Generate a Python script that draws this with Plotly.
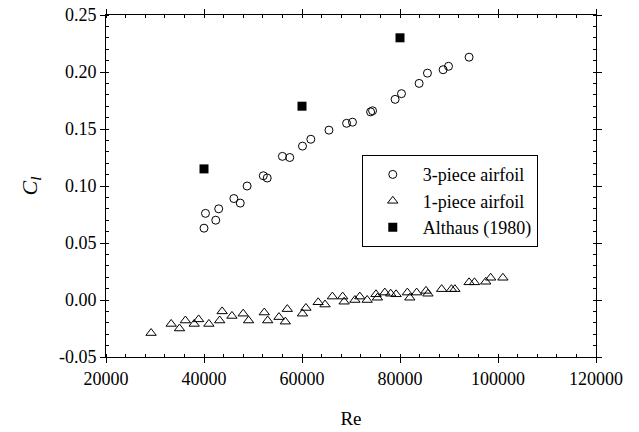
import plotly.graph_objects as go

# 3-piece airfoil
re_3piece = [40000, 40300, 42400, 43000, 46100, 47400, 48800, 52100, 52900, 56000,
             57500, 60100, 61800, 65500, 69100, 70300, 74000, 74400, 79000, 80300,
             83900, 85600, 88800, 89900, 94100]
cl_3piece = [0.063, 0.076, 0.070, 0.080, 0.089, 0.085, 0.100, 0.109, 0.107, 0.126,
             0.125, 0.135, 0.141, 0.149, 0.155, 0.156, 0.165, 0.166, 0.176, 0.181,
             0.190, 0.199, 0.202, 0.205, 0.213]

# 1-piece airfoil
re_1piece = [29200, 33300, 35000, 36200, 38000, 38900, 41000, 43200, 43700, 45700,
             48000, 49100, 52300, 53000, 55300, 56600, 57000, 60100, 60800, 63300,
             64700, 66200, 68300, 68600, 70800, 71800, 73300, 75100, 75400, 76900,
             78100, 79200, 81500, 82000, 83400, 85300, 85700, 88500, 90500, 91200,
             94100, 95200, 97500, 98500, 101000]
cl_1piece = [-0.029, -0.021, -0.025, -0.018, -0.021, -0.017, -0.021, -0.018, -0.010, -0.014,
             -0.012, -0.018, -0.011, -0.018, -0.015, -0.019, -0.008, -0.012, -0.007, -0.002,
             -0.004, 0.003, 0.003, -0.0015, 0.000, 0.003, 0.000, 0.005, 0.002, 0.0065,
             0.0055, 0.005, 0.0065, 0.002, 0.0065, 0.008, 0.0055, 0.0095, 0.0095, 0.0095,
             0.0155, 0.0155, 0.016, 0.0195, 0.0195]

# Althaus (1980)
re_althaus = [40000, 60000, 80000]
cl_althaus = [0.115, 0.170, 0.230]

# Y tick labels (hyphen minus as in the reference)
y_tickvals = [-0.05, 0.0, 0.05, 0.10, 0.15, 0.20, 0.25]
y_ticktext = ["-0.05", "0.00", "0.05", "0.10", "0.15", "0.20", "0.25"]

FONT = "Liberation Serif"

fig = go.Figure()
fig.add_trace(go.Scatter(
    x=re_3piece, y=cl_3piece, mode="markers", name="3-piece airfoil",
    marker=dict(symbol="circle-open", size=8, color="black", line=dict(width=1, color="black")),
))
fig.add_trace(go.Scatter(
    x=re_1piece, y=cl_1piece, mode="markers", name="1-piece airfoil",
    marker=dict(symbol="triangle-up-open", size=9, color="black", line=dict(width=1, color="black")),
))
fig.add_trace(go.Scatter(
    x=re_althaus, y=cl_althaus, mode="markers", name="Althaus (1980)",
    marker=dict(symbol="square", size=9, color="black"),
))

axis_common = dict(
    showgrid=False, zeroline=False, showline=True, linecolor="black", linewidth=1,
    mirror="ticks", ticks="outside", ticklen=5, tickwidth=1, tickcolor="black",
    tickfont=dict(family=FONT, size=18, color="black"), automargin=False,
)

fig.update_layout(
    width=639, height=432,
    margin=dict(l=106, r=43, t=15, b=75),
    paper_bgcolor="white", plot_bgcolor="white",
    font=dict(family=FONT, color="black"),
    xaxis=dict(
        **axis_common, range=[20000, 120000], dtick=20000, tick0=0, tickformat="d",
        minor=dict(dtick=4000, tick0=0, ticks="inside", ticklen=3, tickcolor="black"),
        title=dict(text="Re", font=dict(family=FONT, size=19), standoff=24),
    ),
    yaxis=dict(
        **axis_common, range=[-0.05, 0.25], tickmode="array",
        tickvals=y_tickvals, ticktext=y_ticktext,
        minor=dict(dtick=0.01, tick0=0, ticks="inside", ticklen=3, tickcolor="black"),
        title=dict(text="<i>C<sub>l</sub></i>", font=dict(family=FONT, size=22), standoff=15),
    ),
    legend=dict(
        x=0.522, y=0.59, xanchor="left", yanchor="top",
        bgcolor="white", bordercolor="black", borderwidth=1,
        font=dict(family=FONT, size=18, color="black"),
        itemwidth=50, tracegroupgap=0,
    ),
    showlegend=True,
)

fig.write_html(
    "out.html",
    config={"displayModeBar": False},
    post_script="document.body.style.margin='0';document.body.style.overflow='hidden';",
)
